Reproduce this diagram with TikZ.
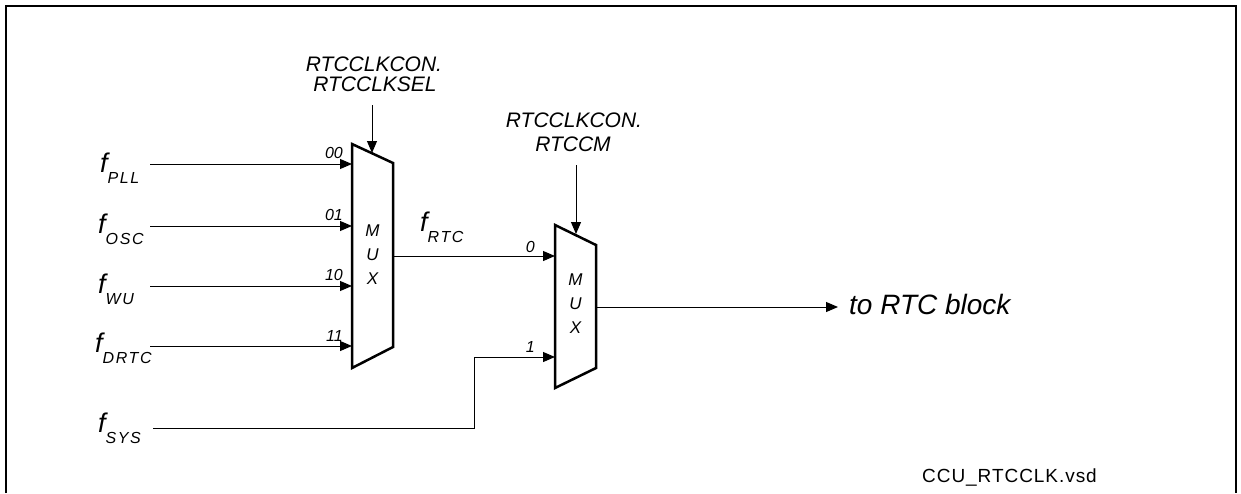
\documentclass[tikz,border=0pt]{standalone}
\usepackage{fontspec}
\setmainfont{Liberation Sans}
\newfontfamily\subfam[LetterSpace=10]{Liberation Sans}
\newfontfamily\widefam[LetterSpace=5]{Liberation Sans}
\usetikzlibrary{arrows.meta}
\newcommand{\fsig}[1]{{\fontsize{27}{30}\selectfont\itshape f}\raisebox{-11pt}{\subfam\fontsize{16}{18}\selectfont\itshape #1}}
\begin{document}
\begin{tikzpicture}[x=1pt,y=-1pt,
  sig/.style={line width=1pt, draw=black},
  tipped/.style={-{Triangle[length=12pt,width=10pt]}},
  muxbox/.style={line width=2.5pt, line join=miter},
  frameline/.style={line width=2pt},
  lbl/.style={inner sep=0pt},
  ctl/.style={inner sep=0pt, anchor=base, font=\fontsize{21}{22}\selectfont\itshape},
  port/.style={inner sep=0pt, anchor=base east, font=\fontsize{16}{18}\selectfont\itshape},
  muxtext/.style={inner sep=0pt, font=\fontsize{17}{20}\selectfont\itshape}]
\useasboundingbox (0,0) rectangle (1241,493);
\draw[frameline] (6,493) -- (6,6) -- (1236,6) -- (1236,493);

% MUX 1
\coordinate (m1tl) at (352,144);
\coordinate (m1tr) at (393,163);
\coordinate (m1br) at (393,347);
\coordinate (m1bl) at (352,368);
\draw[muxbox] (m1tl) -- (m1tr) -- (m1br) -- (m1bl) -- cycle;
\node[muxtext] (m1M) at (372.5,231) {M};
\node[muxtext] (m1U) at (372.5,255) {U};
\node[muxtext] (m1X) at (372.5,279) {X};

% MUX 2
\coordinate (m2tl) at (555,225);
\coordinate (m2tr) at (596,245);
\coordinate (m2br) at (596,368);
\coordinate (m2bl) at (555,388);
\draw[muxbox] (m2tl) -- (m2tr) -- (m2br) -- (m2bl) -- cycle;
\node[muxtext] (m2M) at (575.5,280) {M};
\node[muxtext] (m2U) at (575.5,304) {U};
\node[muxtext] (m2X) at (575.5,328) {X};

% input labels
\node[lbl, anchor=base west] (lPLL)  at (100,172) {\fsig{PLL}};
\node[lbl, anchor=base west] (lOSC)  at (98,233)  {\fsig{OSC}};
\node[lbl, anchor=base west] (lWU)   at (98,293)  {\fsig{WU}};
\node[lbl, anchor=base west] (lDRTC) at (95,352)  {\fsig{DRTC}};
\node[lbl, anchor=base west] (lSYS)  at (98,432)  {\fsig{SYS}};
\node[lbl, anchor=base west] (lRTC)  at (420,231) {\fsig{RTC}};

% input line start points
\coordinate (sPLL)  at (150,164);
\coordinate (sOSC)  at (150,226);
\coordinate (sWU)   at (150,286);
\coordinate (sDRTC) at (150,346);
\coordinate (sSYS)  at (153,428);

% mux1 inputs / output
\coordinate (m1i0) at (352,164);
\coordinate (m1i1) at (352,226);
\coordinate (m1i2) at (352,286);
\coordinate (m1i3) at (352,346);
\coordinate (m1o)  at (393,256);
% mux2 inputs / output
\coordinate (m2i0) at (555,256);
\coordinate (m2i1) at (555,357);
\coordinate (m2o)  at (596,307);
\coordinate (outend) at (838,307);
\coordinate (bend1) at (474,428);
\coordinate (bend2) at (474,357);

\draw[sig,tipped] (sPLL) -- (m1i0);
\draw[sig,tipped] (sOSC) -- (m1i1);
\draw[sig,tipped] (sWU) -- (m1i2);
\draw[sig,tipped] (sDRTC) -- (m1i3);
\draw[sig,tipped] (m1o) -- (m2i0);
\draw[sig,tipped] (sSYS) -- (bend1) -- (bend2) -- (m2i1);
\draw[sig,tipped] (m2o) -- (outend);

% port labels
\node[port] (p00) at (343,158) {00};
\node[port] (p01) at (343,220) {01};
\node[port] (p10) at (343,280) {10};
\node[port] (p11) at (343,341) {11};
\node[port] (p0)  at (535,252) {0};
\node[port] (p1)  at (535,352) {1};

% control labels and arrows
\node[ctl] (c1a) at (374,71) {RTCCLKCON.};
\node[ctl] (c1b) at (375,91) {RTCCLKSEL};
\coordinate (c1s) at (372,105);
\coordinate (c1t) at (372,153);
\draw[sig,tipped] (c1s) -- (c1t);

\node[ctl] (c2a) at (574,127) {RTCCLKCON.};
\node[ctl] (c2b) at (573,151) {RTCCM};
\coordinate (c2s) at (576,165);
\coordinate (c2t) at (576,234);
\draw[sig,tipped] (c2s) -- (c2t);

% output label
\node[lbl, anchor=base west, font=\fontsize{28}{30}\selectfont\itshape] (out) at (849,314) {to RTC block};

% file name
\node[lbl, anchor=base west, font=\widefam\fontsize{19}{22}\selectfont] (fname) at (922,482) {CCU\_RTCCLK.vsd};
\end{tikzpicture}
\end{document}
